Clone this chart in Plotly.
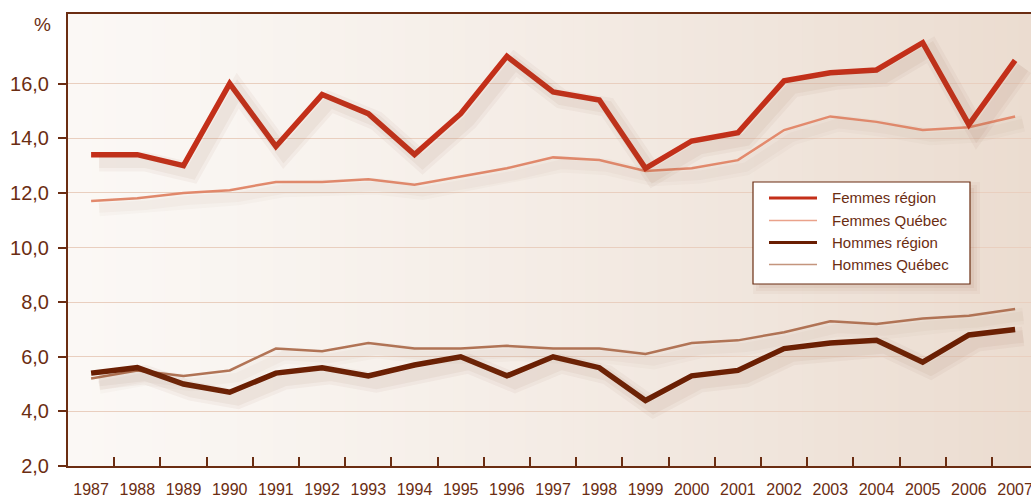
import plotly.graph_objects as go

years = [str(y) for y in range(1987, 2008)]
femmes_region = [13.4, 13.4, 13.0, 16.0, 13.7, 15.6, 14.9, 13.4, 14.9, 17.0, 15.7,
                 15.4, 12.9, 13.9, 14.2, 16.1, 16.4, 16.5, 17.5, 14.5, 16.85]
femmes_quebec = [11.7, 11.8, 12.0, 12.1, 12.4, 12.4, 12.5, 12.3, 12.6, 12.9, 13.3,
                 13.2, 12.8, 12.9, 13.2, 14.3, 14.8, 14.6, 14.3, 14.4, 14.8]
hommes_region = [5.4, 5.6, 5.0, 4.7, 5.4, 5.6, 5.3, 5.7, 6.0, 5.3, 6.0,
                 5.6, 4.4, 5.3, 5.5, 6.3, 6.5, 6.6, 5.8, 6.8, 7.0]
hommes_quebec = [5.2, 5.5, 5.3, 5.5, 6.3, 6.2, 6.5, 6.3, 6.3, 6.4, 6.3,
                 6.3, 6.1, 6.5, 6.6, 6.9, 7.3, 7.2, 7.4, 7.5, 7.75]
y_ticks = [2, 4, 6, 8, 10, 12, 14, 16]

W, H = 1031, 498
ML, MR, MT, MB = 68, 0, 14, 32
PW, PH = W - ML - MR, H - MT - MB
cat_px = 46.2
x_range = [-0.5, -0.5 + PW / cat_px]
y_range = [2, 18.55]
px_per_unit = PH / (y_range[1] - y_range[0])

BROWN = "#6b2d12"
FONT = "Liberation Sans, Arial, sans-serif"

series = [
    ("Femmes région", femmes_region, "#c42f19", 5.5),
    ("Femmes Québec", femmes_quebec, "#e38a6d", 2.5),
    ("Hommes région", hommes_region, "#6a1e02", 5.5),
    ("Hommes Québec", hommes_quebec, "#b27456", 2.5),
]
legend_colors = ["#c42f19", "#eaa28b", "#6a1e02", "#c4957d"]

fig = go.Figure()

# soft drop shadows (drawn on offset overlay axes)
for name, vals, col, w in series:
    k = 1.0 if w > 3 else 0.6
    for sw, a in [(w + 14, 0.05), (w + 7, 0.06)]:
        fig.add_trace(go.Scatter(
            x=years, y=vals, xaxis="x2", yaxis="y2", mode="lines",
            line=dict(color=f"rgba(140,85,55,{a * k})", width=sw),
            showlegend=False, hoverinfo="skip"))

for i in [1, 3, 0, 2]:
    name, vals, col, w = series[i]
    fig.add_trace(go.Scatter(
        x=years, y=vals, mode="lines", name=name,
        line=dict(color=col, width=w), showlegend=False))


def px_x(p):
    return (p - ML) / PW


def px_y(p):
    return (H - MB - p) / PH


# background gradient stripes
N = 80
c0 = (251, 248, 245)
c1 = (235, 220, 208)
shapes = []
for i in range(N):
    t = ((i + 0.5) / N) ** 1.2
    c = tuple(round(c0[k] + (c1[k] - c0[k]) * t) for k in range(3))
    shapes.append(dict(type="rect", xref="paper", yref="paper",
                       x0=i / N, x1=(i + 1) / N + 0.002, y0=0, y1=1,
                       fillcolor=f"rgb{c}", line=dict(width=0), layer="below"))

# legend box (drawn manually for exact placement)
LX0, LX1, LY0, LY1 = 753, 970, 182, 284
for d, a in [(10, 0.05), (7, 0.06), (4, 0.08)]:
    shapes.append(dict(type="rect", xref="paper", yref="paper",
                       x0=px_x(LX0 + 10 - d), x1=px_x(LX1 + d),
                       y0=px_y(LY1 + d), y1=px_y(LY0 + 10 - d),
                       fillcolor=f"rgba(150,100,75,{a})", line=dict(width=0),
                       layer="above"))
shapes.append(dict(type="rect", xref="paper", yref="paper",
                   x0=px_x(LX0), x1=px_x(LX1), y0=px_y(LY1), y1=px_y(LY0),
                   fillcolor="white", line=dict(color=BROWN, width=1.2),
                   layer="above"))
row_y = [198, 220.5, 242.5, 264.5]
annotations = []
for (name, vals, col, w), lc, ry in zip(series, legend_colors, row_y):
    shapes.append(dict(type="line", xref="paper", yref="paper",
                       x0=px_x(769), x1=px_x(817), y0=px_y(ry), y1=px_y(ry),
                       line=dict(color=lc, width=3 if w > 3 else 1.5),
                       layer="above"))
    annotations.append(dict(text=name, xref="paper", yref="paper",
                            x=px_x(830), y=px_y(ry), xanchor="left",
                            yanchor="middle", showarrow=False,
                            font=dict(size=15, color=BROWN, family=FONT)))

annotations.append(dict(text="%", xref="paper", yref="paper",
                        x=px_x(42), y=px_y(25),
                        xanchor="center", yanchor="middle", showarrow=False,
                        font=dict(size=19, color=BROWN, family=FONT)))

fig.update_layout(
    width=W, height=H,
    margin=dict(l=ML, r=MR, t=MT, b=MB, autoexpand=False),
    paper_bgcolor="white", plot_bgcolor="#f6efe9",
    font=dict(family=FONT, color=BROWN),
    separators=", ",
    shapes=shapes,
    annotations=annotations,
    showlegend=False,
    xaxis=dict(type="category", categoryorder="array", categoryarray=years,
               range=x_range, showgrid=False, zeroline=False, automargin=False,
               showline=True, linecolor=BROWN, linewidth=2, mirror=True,
               ticks="inside", tickson="boundaries", ticklen=9,
               tickcolor=BROWN, tickwidth=2,
               tickfont=dict(size=16, color=BROWN), ticklabelstandoff=8),
    yaxis=dict(range=y_range, tickvals=y_ticks, tickformat=".1f",
               automargin=False,
               showgrid=True, gridcolor="#e9cfbf", gridwidth=1,
               zeroline=False, showline=True, linecolor=BROWN, linewidth=2,
               ticks="outside", ticklen=8, tickcolor=BROWN, tickwidth=2,
               ticklabelstandoff=5,
               tickfont=dict(size=20, color=BROWN)),
    xaxis2=dict(type="category", categoryorder="array", categoryarray=years,
                overlaying="x", visible=False,
                range=[x_range[0] - 8 / cat_px, x_range[1] - 8 / cat_px]),
    yaxis2=dict(overlaying="y", visible=False,
                range=[y_range[0] + 7 / px_per_unit, y_range[1] + 7 / px_per_unit]),
)

fig.write_html("out.html",
               config={"displayModeBar": False},
               post_script="document.body.style.margin='0';"
                           "document.body.style.overflow='hidden';")
